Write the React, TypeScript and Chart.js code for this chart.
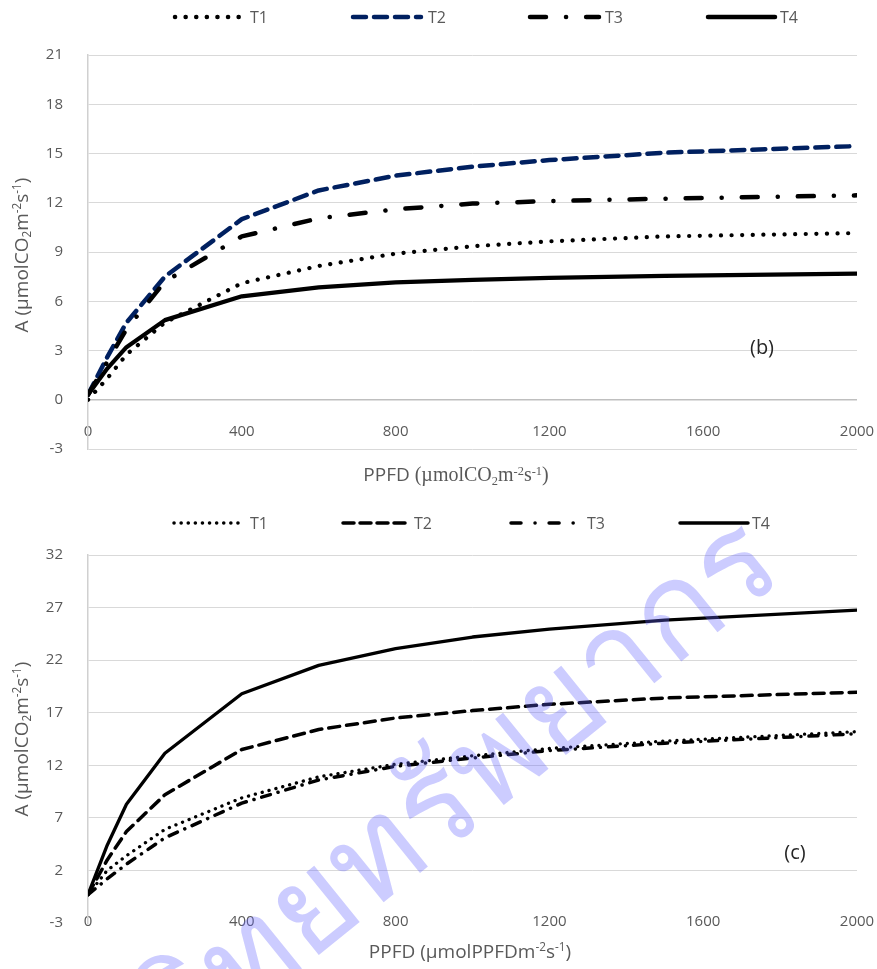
import React, { useEffect, useRef } from "react";
import { Chart, registerables } from "chart.js";
Chart.register(...registerables);

// ---------- data ----------
const ppfd = [0, 50, 100, 200, 400, 600, 800, 1000, 1200, 1500, 2000];
const seriesNames = ["T1", "T2", "T3", "T4"];

// panel (b)
const bT1 = [0, 1.3, 2.75, 4.7, 7.1, 8.15, 8.9, 9.35, 9.65, 9.95, 10.15];
const bT2 = [0.3, 2.6, 4.7, 7.5, 11.0, 12.75, 13.65, 14.2, 14.6, 15.05, 15.45];
const bT3 = [0.3, 2.3, 4.3, 7.2, 9.95, 11.05, 11.6, 11.95, 12.1, 12.25, 12.45];
const bT4 = [0.3, 1.9, 3.2, 4.85, 6.3, 6.85, 7.15, 7.3, 7.42, 7.55, 7.68];

// panel (c)
const cT1 = [-0.3, 2.0, 3.4, 5.9, 8.9, 10.9, 12.1, 12.9, 13.6, 14.3, 15.2];
const cT2 = [-0.3, 3.0, 5.7, 9.2, 13.5, 15.4, 16.5, 17.2, 17.8, 18.4, 18.95];
const cT3 = [-0.3, 1.2, 2.6, 5.1, 8.4, 10.6, 11.9, 12.7, 13.4, 14.1, 15.0];
const cT4 = [-0.3, 4.4, 8.3, 13.15, 18.8, 21.5, 23.1, 24.2, 24.95, 25.8, 26.75];

const xTicks = [0, 400, 800, 1200, 1600, 2000];
const yTicksB = [-3, 0, 3, 6, 9, 12, 15, 18, 21];
const yTicksC = [-3, 2, 7, 12, 17, 22, 27, 32];

const FONT = "'Open Sans', 'Noto Sans', sans-serif";
const GREY = "#595959";

type Style = { color: string; dash: number[]; width: number; legendDash?: number[] };

function makeLegendPlugin(y: number, lineWidth: number, items: { x0: number; x1: number; tx: number }[], styles: Style[]) {
  return {
    id: "customLegend",
    afterDraw(chart: any) {
      const ctx = chart.ctx;
      items.forEach((it, i) => {
        const ds = chart.data.datasets[i];
        const st = styles[i];
        ctx.save();
        ctx.strokeStyle = ds.borderColor;
        ctx.lineWidth = lineWidth;
        ctx.lineCap = "round";
        ctx.setLineDash(st.legendDash || st.dash);
        ctx.beginPath();
        ctx.moveTo(it.x0, y);
        ctx.lineTo(it.x1, y);
        ctx.stroke();
        ctx.setLineDash([]);
        ctx.fillStyle = GREY;
        ctx.font = `16px ${FONT}`;
        ctx.textBaseline = "middle";
        ctx.textAlign = "left";
        ctx.fillText(ds.label, it.tx, y + 1);
        ctx.restore();
      });
    },
  };
}

function buildConfig(
  series: number[][],
  styles: Style[],
  yMin: number,
  yMax: number,
  yTicks: number[],
  layoutTop: number,
  xAxisHeight: number,
  xLabelPad: number,
  hideBottomGrid: boolean,
  legend: any
) {
  return {
    type: "line",
    data: {
      datasets: series.map((vals, i) => ({
        label: seriesNames[i],
        data: ppfd.map((x, k) => ({ x, y: vals[k] })),
        borderColor: styles[i].color,
        backgroundColor: styles[i].color,
        borderWidth: styles[i].width,
        borderDash: styles[i].dash,
        borderCapStyle: "round",
        borderJoinStyle: "round",
        pointRadius: 0,
        pointHoverRadius: 0,
        tension: 0,
        fill: false,
        order: 3 - i,
      })),
    },
    options: {
      responsive: false,
      animation: false,
      devicePixelRatio: 1,
      layout: { padding: { top: layoutTop, right: 20, left: 0, bottom: 0 } },
      plugins: { legend: { display: false }, tooltip: { enabled: false }, title: { display: false } },
      scales: {
        x: {
          type: "linear",
          min: 0,
          max: 2000,
          afterBuildTicks: (s: any) => {
            s.ticks = xTicks.map((v) => ({ value: v }));
          },
          afterFit: (s: any) => {
            s.height = xAxisHeight;
            s.paddingLeft = 0;
            s.paddingRight = 0;
          },
          grid: { display: false, drawTicks: false },
          border: { display: false },
          ticks: {
            mirror: true,
            padding: xLabelPad,
            color: GREY,
            font: { family: FONT, size: 15 },
            maxRotation: 0,
            autoSkip: false,
            callback: (v: any) => String(v),
          },
        },
        y: {
          type: "linear",
          min: yMin,
          max: yMax,
          afterBuildTicks: (s: any) => {
            s.ticks = yTicks.map((v) => ({ value: v }));
          },
          afterFit: (s: any) => {
            s.width = 88;
          },
          grid: {
            drawTicks: false,
            lineWidth: (c: any) => (c.tick && c.tick.value === 0 ? 1.5 : 1),
            color: (c: any) => {
              if (c.tick && c.tick.value === 0) return "#bfbfbf";
              if (hideBottomGrid && c.tick && c.tick.value === yMin) return "rgba(0,0,0,0)";
              return "#d9d9d9";
            },
          },
          border: { display: true, color: "#d0d0d0", width: 1.5 },
          ticks: {
            padding: 25,
            color: GREY,
            font: { family: FONT, size: 15 },
            autoSkip: false,
            callback: (v: any) => String(v),
          },
        },
      },
    },
    plugins: [legend],
  };
}

const stylesB: Style[] = [
  { color: "#000000", dash: [0.1, 10.5], width: 4.2 },
  { color: "#002060", dash: [13, 8], width: 4.5 },
  { color: "#000000", dash: [16, 20, 0.1, 20], width: 4.5, legendDash: [16, 20, 0.1, 20] },
  { color: "#000000", dash: [], width: 4.2 },
];
const stylesC: Style[] = [
  { color: "#000000", dash: [0.1, 7], width: 3.3 },
  { color: "#000000", dash: [11, 7], width: 3.5, legendDash: [11, 6] },
  { color: "#000000", dash: [9, 8, 0.1, 8], width: 3.5, legendDash: [10, 14, 0.1, 14] },
  { color: "#000000", dash: [], width: 3.3 },
];

function ChartCanvas({ cfg, width, height }: { cfg: () => any; width: number; height: number }) {
  const ref = useRef<HTMLCanvasElement>(null);
  useEffect(() => {
    if (!ref.current) return;
    const chart = new Chart(ref.current, cfg());
    return () => chart.destroy();
  }, []);
  return <canvas ref={ref} width={width} height={height} style={{ width, height, display: "block" }} />;
}

const titleStyle: React.CSSProperties = {
  position: "absolute",
  fontFamily: FONT,
  fontSize: 19,
  color: GREY,
  whiteSpace: "nowrap",
  lineHeight: 1,
};
const supS: React.CSSProperties = { fontSize: "0.62em", verticalAlign: "0.55em" };
const subS: React.CSSProperties = { fontSize: "0.62em", verticalAlign: "-0.3em" };

export default function App() {
  const legendB = makeLegendPlugin(
    17,
    4.5,
    [
      { x0: 175, x1: 243, tx: 250 },
      { x0: 353, x1: 421, tx: 428 },
      { x0: 530, x1: 599, tx: 605 },
      { x0: 708, x1: 775, tx: 780 },
    ],
    stylesB
  );
  const legendC = makeLegendPlugin(
    33,
    3.5,
    [
      { x0: 174, x1: 242, tx: 250 },
      { x0: 343, x1: 410, tx: 414 },
      { x0: 511, x1: 580, tx: 587 },
      { x0: 680, x1: 748, tx: 752 },
    ],
    stylesC
  );

  return (
    <div style={{ position: "absolute", left: 0, top: 0, width: 877, height: 969, overflow: "hidden", background: "#fff" }}>
      <div style={{ position: "absolute", left: 0, top: 0 }}>
        <ChartCanvas
          width={877}
          height={490}
          cfg={() => buildConfig([bT1, bT2, bT3, bT4], stylesB, -3, 21, yTicksB, 55, 41, 8, false, legendB)}
        />
      </div>
      <div style={{ position: "absolute", left: 0, top: 490 }}>
        <ChartCanvas
          width={877}
          height={479}
          cfg={() => buildConfig([cT1, cT2, cT3, cT4], stylesC, -3, 32, yTicksC, 65, 46, -8, true, legendC)}
        />
      </div>

      {/* axis titles, panel (b) */}
      <div style={{ ...titleStyle, left: 22, top: 255, transform: "translate(-50%,-50%) rotate(-90deg)" }}>
        A (µmolCO<span style={subS}>2</span>m<span style={supS}>-2</span>s<span style={supS}>-1</span>)
      </div>
      <div style={{ ...titleStyle, left: 456, top: 476, transform: "translate(-50%,-50%)" }}>
        PPFD{" "}
        <span style={{ fontFamily: "'Liberation Serif', 'Times New Roman', serif", fontSize: 20 }}>
          (µmolCO<span style={subS}>2</span>m<span style={supS}>-2</span>s<span style={supS}>-1</span>)
        </span>
      </div>
      <div style={{ ...titleStyle, left: 762, top: 347, fontSize: 20, color: "#262626", transform: "translate(-50%,-50%)" }}>
        (b)
      </div>

      {/* axis titles, panel (c) */}
      <div style={{ ...titleStyle, left: 22, top: 739, transform: "translate(-50%,-50%) rotate(-90deg)" }}>
        A (µmolCO<span style={subS}>2</span>m<span style={supS}>-2</span>s<span style={supS}>-1</span>)
      </div>
      <div style={{ ...titleStyle, left: 470, top: 951, transform: "translate(-50%,-50%)" }}>
        PPFD (µmolPPFDm<span style={supS}>-2</span>s<span style={supS}>-1</span>)
      </div>
      <div style={{ ...titleStyle, left: 795, top: 852, fontSize: 20, color: "#262626", transform: "translate(-50%,-50%)" }}>
        (c)
      </div>

      {/* watermark */}
      <div style={{ position: "absolute", left: 775, top: 560, width: 0, height: 0, transform: "rotate(-39deg)", pointerEvents: "none" }}>
        <span
          style={{
            position: "absolute",
            right: 0,
            bottom: -40,
            whiteSpace: "nowrap",
            fontFamily: "sans-serif",
            fontSize: 130,
            lineHeight: 1,
            color: "rgba(100,100,255,0.33)",
          }}
        >
          ศูนย์วิทยทรัพยากร
        </span>
      </div>
    </div>
  );
}
